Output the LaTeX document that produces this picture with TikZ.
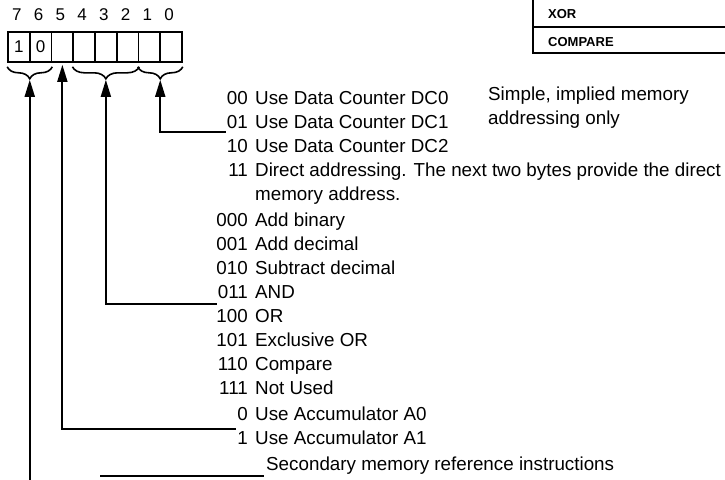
\documentclass[tikz,border=0pt]{standalone}
\usepackage{fontspec}
\setmainfont{Liberation Sans}
\usetikzlibrary{arrows.meta,decorations.pathreplacing,calc}
\begin{document}
\begin{tikzpicture}[x=1pt,y=-1pt,
  cell/.style={draw,line width=1.6pt,minimum width=21.75pt,minimum height=30pt,inner sep=0pt,font=\fontsize{17}{17}\selectfont},
  bitnum/.style={inner sep=0pt,font=\fontsize{17}{17}\selectfont},
  code/.style={anchor=base east,inner sep=0pt,font=\fontsize{18.8}{22}\selectfont},
  desc/.style={anchor=base west,inner sep=0pt,font=\fontsize{18.8}{22}\selectfont},
  conn/.style={line width=1.8pt},
  arr/.style={conn,-{Triangle[length=17pt,width=10pt]}},
  brc/.style={line width=1.6pt,decorate,decoration={brace,mirror,amplitude=12pt}},
  tbl/.style={inner sep=0pt,anchor=base west,font=\bfseries\fontsize{13}{13}\selectfont},
  tblline/.style={line width=1.6pt}
]
\useasboundingbox (0,0) rectangle (725,479);

% register cells
\node[cell] (b7) at (18.875,47) {1};
\node[cell] (b6) at (40.625,47) {0};
\node[cell] (b5) at (62.375,47) {};
\node[cell] (b4) at (84.125,47) {};
\node[cell] (b3) at (105.875,47) {};
\node[cell] (b2) at (127.625,47) {};
\node[cell] (b1) at (149.375,47) {};
\node[cell] (b0) at (171.125,47) {};

% bit numbers
\foreach \b in {7,...,0} {
  \node[bitnum] (n\b) at ($(b\b.center)+(-2,-32)$) {\b};
}

% braces
\draw[brc] ([yshift=-4pt]b7.south west) -- ([yshift=-4pt]b6.south east);
\draw[brc] ([yshift=-4pt]b4.south west) -- ([yshift=-4pt]b2.south east);
\draw[brc] ([yshift=-4pt]b1.south west) -- ([yshift=-4pt]b0.south east);
\coordinate (t76) at ($(b7.south west)!0.5!(b6.south east)+(0,17)$);
\coordinate (t42) at ($(b4.south west)!0.5!(b2.south east)+(0,17)$);
\coordinate (t10) at ($(b1.south west)!0.5!(b0.south east)+(0,17)$);
\coordinate (t5) at ($(b5.south)+(0,2)$);

% addressing field
\node[code] (c00) at (248,104) {00};
\node[desc] (d00) at (255,104) {Use Data Counter DC0};
\node[code] (c01) at (248,128) {01};
\node[desc] (d01) at (255,128) {Use Data Counter DC1};
\node[code] (c10) at (248,152) {10};
\node[desc] (d10) at (255,152) {Use Data Counter DC2};
\node[code] (c11) at (248,176) {11};
\node[desc] (d11) at (255,176) {Direct addressing. The next two bytes provide the direct};
\node[desc] (dmem) at (255,200) {memory address.};
\node[desc] (s1) at (488,100) {Simple, implied memory};
\node[desc] (s2) at (488,124) {addressing only};

% operation field
\node[code] (c000) at (248,226) {000};
\node[desc] (d000) at (255,226) {Add binary};
\node[code] (c001) at (248,250) {001};
\node[desc] (d001) at (255,250) {Add decimal};
\node[code] (c010) at (248,274) {010};
\node[desc] (d010) at (255,274) {Subtract decimal};
\node[code] (c011) at (248,298) {011};
\node[desc] (d011) at (255,298) {AND};
\node[code] (c100) at (248,322) {100};
\node[desc] (d100) at (255,322) {OR};
\node[code] (c101) at (248,346) {101};
\node[desc] (d101) at (255,346) {Exclusive OR};
\node[code] (c110) at (248,370) {110};
\node[desc] (d110) at (255,370) {Compare};
\node[code] (c111) at (248,394) {111};
\node[desc] (d111) at (255,394) {Not Used};

% accumulator
\node[code] (ca0) at (248,420) {0};
\node[desc] (da0) at (255,420) {Use Accumulator A0};
\node[code] (ca1) at (248,444) {1};
\node[desc] (da1) at (255,444) {Use Accumulator A1};

% secondary
\node[desc] (dsec) at (266,470) {Secondary memory reference instructions};

% connectors
\coordinate (e10) at ([xshift=-1pt,yshift=-4pt]c01.base west);
\coordinate (e42) at ([xshift=-1pt,yshift=-6pt]c011.base west);
\coordinate (e5) at ([xshift=-1pt,yshift=-9pt]ca0.base west);
\coordinate (bot76) at ($(t76)+(0,405)$);
\coordinate (sstart) at (100,476);
\coordinate (send) at ([xshift=-2pt,yshift=-6pt]dsec.base west);

\draw[arr] (e10) -| (t10);
\draw[arr] (e42) -| (t42);
\draw[arr] (e5) -| (t5);
\draw[arr] (bot76) -- (t76);
\draw[conn] (sstart) -- (send);

% partial table at top right
\draw[tblline, line width=2.2pt] (533,-2) -- (533,54);
\draw[tblline] (533,27) -- (727,27);
\draw[tblline] (533,53) -- (727,53);
\node[tbl] (xor) at (548,18) {XOR};
\node[tbl] (cmp) at (548,46) {COMPARE};
\end{tikzpicture}
\end{document}
